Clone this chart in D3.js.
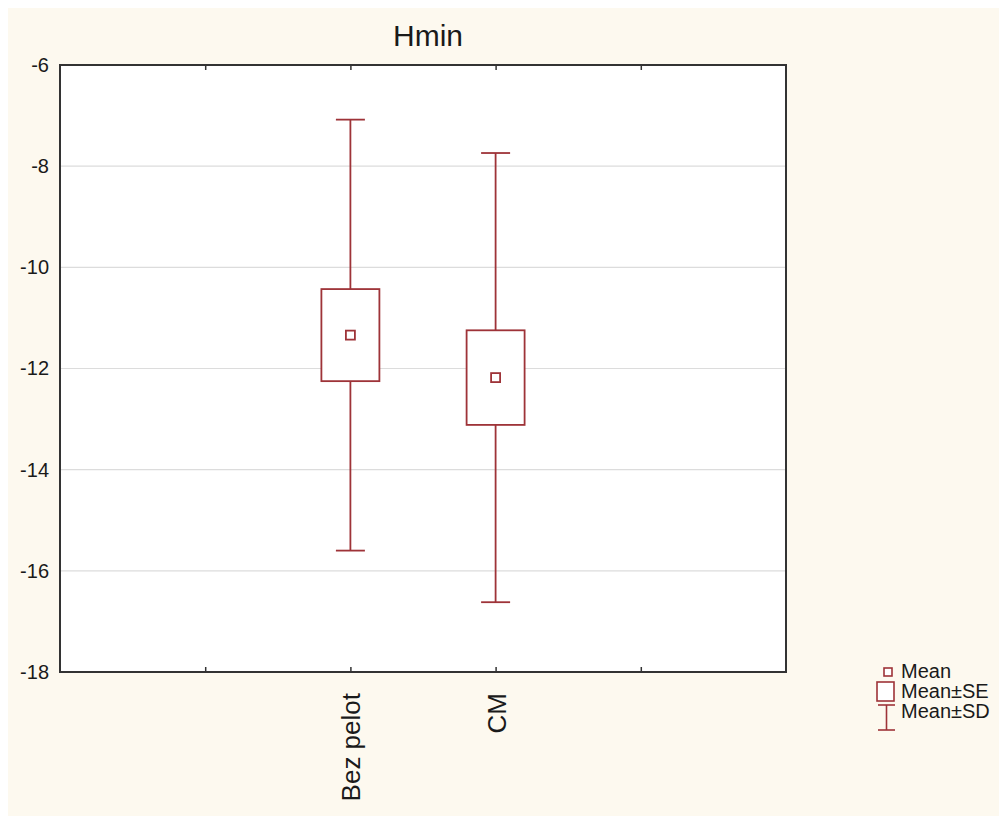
<!DOCTYPE html>
<html>
<head>
<meta charset="utf-8">
<script src="https://cdn.jsdelivr.net/npm/d3@7"></script>
<style>
  body { margin: 0; background: #ffffff; overflow: hidden; }
  svg { display: block; }
  text { font-family: Arial, "Liberation Sans", sans-serif; fill: #1a1a1a; }
</style>
</head>
<body>
<svg width="999" height="816"></svg>
<script>
var groups = ["Bez pelot", "CM"];
var groupPos = [2, 3];
var means = [-11.34, -12.18];
var se = [0.91, 0.935];
var sd = [4.26, 4.44];
var yTicks = [-6, -8, -10, -12, -14, -16, -18];
var xTicks = [1, 2, 3, 4];

var red = "#9e3338";
var svg = d3.select("svg");

svg.append("rect")
    .attr("x", 8).attr("y", 8)
    .attr("width", 991).attr("height", 808)
    .attr("fill", "#fdf9ef");

var plotLeft = 60, plotRight = 786, plotTop = 65, plotBottom = 672;

var x = d3.scaleLinear().domain([0, 5]).range([plotLeft, plotRight]);
var y = d3.scaleLinear().domain([-18, -6]).range([plotBottom, plotTop]);

svg.append("rect")
    .attr("x", plotLeft).attr("y", plotTop)
    .attr("width", plotRight - plotLeft).attr("height", plotBottom - plotTop)
    .attr("fill", "#ffffff");

// grid
svg.append("g")
    .selectAll("line")
    .data(yTicks.slice(1, -1))
    .join("line")
    .attr("x1", plotLeft).attr("x2", plotRight)
    .attr("y1", d => y(d)).attr("y2", d => y(d))
    .attr("stroke", "#dcdcdc")
    .attr("stroke-width", 1.2);

// left axis labels (plain hyphen like the original)
var yAxis = d3.axisLeft(y).tickValues(yTicks).tickSize(0).tickPadding(11)
    .tickFormat(d => String(d));
var gy = svg.append("g")
    .attr("transform", "translate(" + plotLeft + ",0)")
    .call(yAxis);
gy.select(".domain").remove();
gy.selectAll("text")
    .style("font-size", "20px")
    .attr("fill", "#1a1a1a");

// inner ticks bottom and top
var gb = svg.append("g")
    .attr("transform", "translate(0," + plotBottom + ")")
    .call(d3.axisTop(x).tickValues(xTicks).tickSize(5).tickFormat(""));
gb.select(".domain").remove();
gb.selectAll("line").attr("stroke", "#333").attr("stroke-width", 1.5);

var gt = svg.append("g")
    .attr("transform", "translate(0," + plotTop + ")")
    .call(d3.axisBottom(x).tickValues(xTicks).tickSize(5).tickFormat(""));
gt.select(".domain").remove();
gt.selectAll("line").attr("stroke", "#333").attr("stroke-width", 1.5);

// frame
svg.append("rect")
    .attr("x", plotLeft).attr("y", plotTop)
    .attr("width", plotRight - plotLeft).attr("height", plotBottom - plotTop)
    .attr("fill", "none")
    .attr("stroke", "#333")
    .attr("stroke-width", 2);

// category labels
svg.append("g")
    .selectAll("text")
    .data(groups)
    .join("text")
    .attr("transform", (d, i) => "translate(" + (x(groupPos[i]) + 10) + "," + (plotBottom + 21) + ") rotate(-90)")
    .attr("text-anchor", "end")
    .style("font-size", "26px")
    .text(d => d);

// whiskers and boxes
var boxW = 58, capW = 29, meanS = 9;
var g = svg.append("g").attr("stroke", red).attr("stroke-width", 1.8).attr("fill", "none");
groups.forEach(function(name, i) {
    var cx = x(groupPos[i]);
    var m = means[i];
    g.append("line")
        .attr("x1", cx).attr("x2", cx)
        .attr("y1", y(m + sd[i])).attr("y2", y(m + se[i]));
    g.append("line")
        .attr("x1", cx).attr("x2", cx)
        .attr("y1", y(m - se[i])).attr("y2", y(m - sd[i]));
    [m + sd[i], m - sd[i]].forEach(function(v) {
        g.append("line")
            .attr("x1", cx - capW / 2).attr("x2", cx + capW / 2)
            .attr("y1", y(v)).attr("y2", y(v));
    });
    g.append("rect")
        .attr("x", cx - boxW / 2).attr("y", y(m + se[i]))
        .attr("width", boxW).attr("height", y(m - se[i]) - y(m + se[i]))
        .attr("fill", "#ffffff");
    g.append("rect")
        .attr("x", cx - meanS / 2).attr("y", y(m) - meanS / 2)
        .attr("width", meanS).attr("height", meanS)
        .attr("fill", "#ffffff");
});

// title
svg.append("text")
    .attr("x", 428).attr("y", 46)
    .attr("text-anchor", "middle")
    .style("font-size", "30px")
    .text("Hmin");

// legend
var lg = svg.append("g");
var ls = lg.append("g").attr("stroke", red).attr("stroke-width", 1.6).attr("fill", "#fff");
ls.append("rect").attr("x", 884).attr("y", 668).attr("width", 8).attr("height", 8);
ls.append("rect").attr("x", 877).attr("y", 682).attr("width", 17).attr("height", 19);
ls.append("line").attr("x1", 878).attr("x2", 895).attr("y1", 705).attr("y2", 705);
ls.append("line").attr("x1", 878).attr("x2", 895).attr("y1", 730).attr("y2", 730);
ls.append("line").attr("x1", 886.5).attr("x2", 886.5).attr("y1", 705).attr("y2", 730);

var legendLabels = ["Mean", "Mean\u00b1SE", "Mean\u00b1SD"];
lg.selectAll("text.leg")
    .data(legendLabels)
    .join("text")
    .attr("class", "leg")
    .attr("x", 901)
    .attr("y", (d, i) => 678 + i * 20)
    .style("font-size", "20px")
    .text(d => d);
</script>
</body>
</html>
